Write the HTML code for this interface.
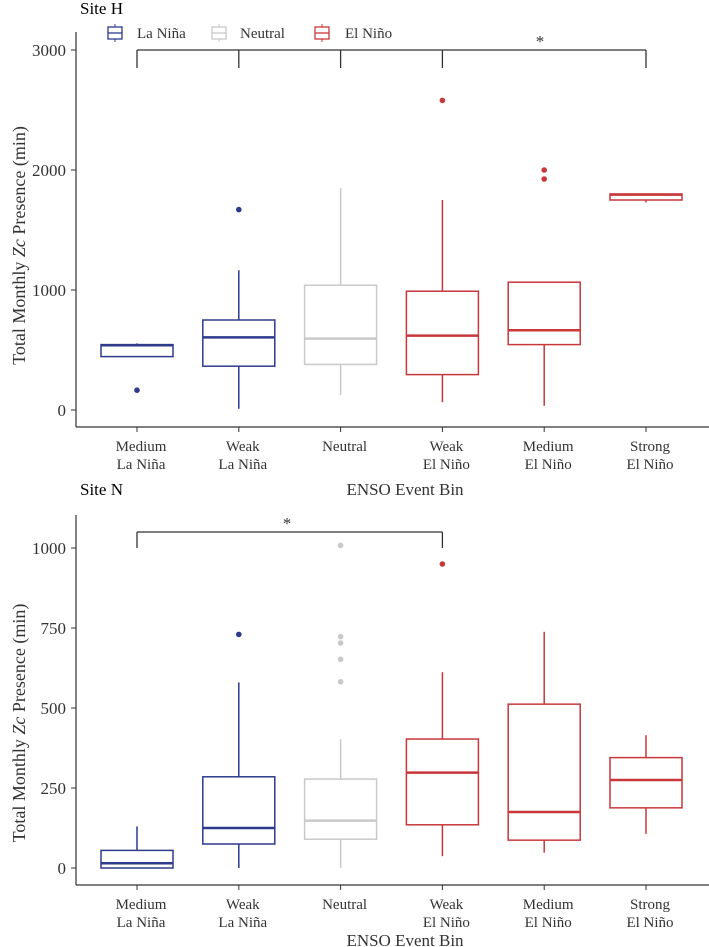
<!DOCTYPE html>
<html><head><meta charset="utf-8"><style>
body{margin:0;background:#fff;}
svg{display:block;font-family:"Liberation Serif",serif;}
</style></head><body>
<svg id="chart" width="709" height="947" viewBox="0 0 709 947" xmlns="http://www.w3.org/2000/svg"></svg>
<script>
const categories = ["Medium|La Niña","Weak|La Niña","Neutral","Weak|El Niño","Medium|El Niño","Strong|El Niño"];
const groups = ["la","la","neu","el","el","el"];
// Site H: [low, q1, median, q3, high]
const siteHStats = [[445,445,540,545,555],[10,365,605,750,1165],[125,380,595,1040,1850],[65,295,620,990,1750],[35,545,665,1065,1065],[1730,1750,1795,1800,1800]];
const siteHOutliers = [[165],[1670],[],[2580],[2000,1925],[]];
const siteHTicks = [0,1000,2000,3000];
// Site N
const siteNStats = [[0,0,15,55,130],[0,75,125,285,580],[0,90,148,278,403],[37,135,298,403,612],[48,87,175,512,738],[107,188,275,345,415]];
const siteNOutliers = [[],[730],[1008,723,703,652,582],[950],[],[]];
const siteNTicks = [0,250,500,750,1000];

const colors = {la:"#2e3a8c",neu:"#c9c9c9",el:"#c8373a"};
const NS="http://www.w3.org/2000/svg";
const svg=document.getElementById('chart');
function mk(tag,attrs,parent){const e=document.createElementNS(NS,tag);for(const k in attrs)e.setAttribute(k,attrs[k]);(parent||svg).appendChild(e);return e;}
function xPos(i){return 137+i*101.8;}

function panel(p){
  const g=mk('g',{});
  
  
  const y=v=>p.y0-(v-p.vmin)*p.scale;
  let t=mk('text',{x:80,y:p.titleY,'font-size':17},g);t.textContent=p.title;
  
  let a=mk('line',{x1:76,y1:p.axTop,x2:76,y2:p.axBot,stroke:'#333','stroke-width':1.2},g);
  
  a=mk('line',{x1:76,y1:p.axBot,x2:709,y2:p.axBot,stroke:'#333','stroke-width':1.2},g);
  
  p.ticks.forEach(v=>{
    mk('line',{x1:71,x2:76,y1:y(v),y2:y(v),stroke:'#333'},g);
    const tt=mk('text',{x:66,y:y(v)+6,'font-size':17,'text-anchor':'end',fill:'#333'},g);tt.textContent=v;
    
  });
  categories.forEach((c,i)=>{
    const x=xPos(i);
    mk('line',{x1:x,x2:x,y1:p.axBot,y2:p.axBot+5,stroke:'#333'},g);
    c.split('|').forEach((ln,j)=>{
      const tt=mk('text',{x:x+4,y:p.axBot+24+j*18,'font-size':15,'text-anchor':'middle',fill:'#333'},g);tt.textContent=ln;
      
    });
    const s=p.stats[i],col=colors[groups[i]],w=36;
    const bg=mk('g',{stroke:col,fill:'none','stroke-width':1.5},g);
    
    
    mk('line',{x1:x,x2:x,y1:y(s[0]),y2:y(s[1])},bg);
    mk('line',{x1:x,x2:x,y1:y(s[3]),y2:y(s[4])},bg);
    mk('rect',{x:x-w,y:y(s[3]),width:2*w,height:Math.max(0.5,y(s[1])-y(s[3]))},bg);
    mk('line',{x1:x-w,x2:x+w,y1:y(s[2]),y2:y(s[2]),'stroke-width':2.5},bg);
    p.outliers[i].forEach(o=>{
      const d=mk('circle',{cx:x,cy:y(o),r:2.8,fill:col,stroke:'none'},g);
      
    });
  });
  const yt=mk('text',{x:0,y:0,'font-size':18,'text-anchor':'middle',fill:'#333',transform:`translate(25,${(p.axTop+p.axBot)/2+p.ytOff}) rotate(-90)`},g);
  yt.innerHTML='Total Monthly <tspan font-style="italic">Zc</tspan> Presence (min)';
  
  const xt=mk('text',{x:405,y:p.xTitleY,'font-size':17,'text-anchor':'middle',fill:'#333'},g);xt.textContent='ENSO Event Bin';
  
  const br=mk('g',{stroke:'#333',fill:'none','stroke-width':1.3},g);
  
  const bx=p.bracket.map(xPos),by=y(p.bracketV);
  mk('line',{x1:bx[0],x2:bx[bx.length-1],y1:by,y2:by},br);
  bx.forEach(xx=>mk('line',{x1:xx,x2:xx,y1:by,y2:by+p.drop},br));
  const st=mk('text',{x:p.starX,y:by-3,'font-size':17,'text-anchor':'middle',fill:'#333'},g);st.textContent='*';
  
}

panel({name:'site-h-panel',title:'Site H',titleY:14,y0:410,vmin:0,scale:0.12,axTop:32,axBot:427,ticks:siteHTicks,stats:siteHStats,outliers:siteHOutliers,xTitleY:495,bracket:[0,1,2,3,5],bracketV:3000,drop:18,starX:540,ytOff:16});
panel({name:'site-n-panel',title:'Site N',titleY:495,y0:868,vmin:0,scale:0.32,axTop:515,axBot:885,ticks:siteNTicks,stats:siteNStats,outliers:siteNOutliers,xTitleY:946,bracket:[0,3],bracketV:1050,drop:16,starX:287,ytOff:23});

const lg=mk('g',{});


[["la","La Niña",108,137],["neu","Neutral",212,240],["el","El Niño",315,345]].forEach(([k,lab,ix,tx])=>{
  const e=mk('g',{},lg);
  
  
  mk('rect',{x:ix,y:27,width:14,height:12,fill:'none',stroke:colors[k],'stroke-width':1.3},e);
  mk('line',{x1:ix,x2:ix+14,y1:33,y2:33,stroke:colors[k],'stroke-width':1.3},e);
  mk('line',{x1:ix+7,x2:ix+7,y1:24,y2:27,stroke:colors[k],'stroke-width':1},e);
  mk('line',{x1:ix+7,x2:ix+7,y1:39,y2:42,stroke:colors[k],'stroke-width':1},e);
  const t=mk('text',{x:tx,y:38,'font-size':15,fill:'#333'},e);t.textContent=lab;
});
</script>
</body></html>
